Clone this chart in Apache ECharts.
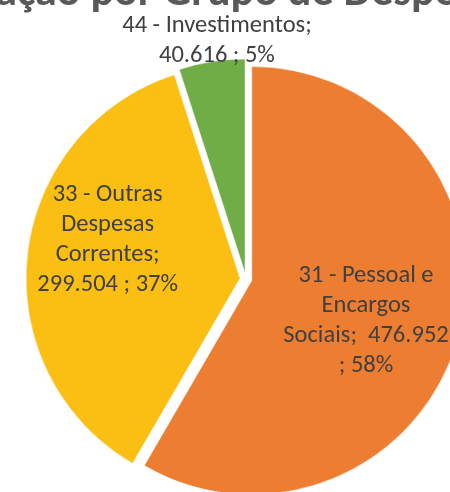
<!DOCTYPE html>
<html>
<head>
<meta charset="utf-8">
<script src="https://cdn.jsdelivr.net/npm/echarts@6/dist/echarts.min.js"></script>
<style>
  html, body { margin: 0; padding: 0; background: #ffffff; }
  #chart { width: 450px; height: 492px; }
</style>
</head>
<body>
<div id="chart"></div>
<script>
const titleText = 'Dotação por Grupo de Despesa';
const categories = ['31 - Pessoal e Encargos Sociais', '33 - Outras Despesas Correntes', '44 - Investimentos'];
const labelNames = ['31 - Pessoal e\nEncargos\nSociais', '33 - Outras\nDespesas\nCorrentes', '44 - Investimentos'];
const values = [476952, 299504, 40616];
const valueSeps = [';  ', ';\n', ';\n'];
const percentSeps = ['\n; ', ' ; ', ' ; '];
const colors = ['#ED7D31', '#FBBF14', '#70AD47'];
const labelShift = [[8, 12], [-23, -27], [-11, -124]];

function fmt(v) {
  return String(v).replace(/\B(?=(\d{3})+(?!\d))/g, '.');
}

const chart = echarts.init(document.getElementById('chart'), null, { renderer: 'canvas' });
const FONT = 'Carlito, Lato, sans-serif';

chart.setOption({
  backgroundColor: '#ffffff',
  animation: false,
  title: {
    text: titleText,
    left: -76,
    top: -33,
    textStyle: { fontFamily: FONT, fontSize: 44, fontWeight: 'bold', color: '#595959' }
  },
  series: [{
    type: 'pie',
    center: [246, 279],
    radius: [0, 214],
    startAngle: 90,
    clockwise: true,
    selectedMode: 'multiple',
    selectedOffset: 6,
    avoidLabelOverlap: false,
    emphasis: { disabled: true },
    itemStyle: { borderColor: '#ffffff', borderWidth: 0.5 },
    label: {
      show: true,
      position: 'inside',
      fontFamily: FONT,
      fontSize: 24.5,
      lineHeight: 30,
      color: '#404040',
      align: 'center',
      formatter: function (p) {
        const i = p.dataIndex;
        return labelNames[i] + valueSeps[i] + fmt(p.value) + percentSeps[i] + Math.round(p.percent) + '%';
      }
    },
    labelLine: { show: false },
    labelLayout: function (params) {
      const s = labelShift[params.dataIndex];
      return { dx: s[0], dy: s[1] };
    },
    data: categories.map(function (c, i) {
      return { name: c, value: values[i], selected: true, itemStyle: { color: colors[i] }, select: { itemStyle: { color: colors[i] } } };
    })
  }]
});
</script>
</body>
</html>
